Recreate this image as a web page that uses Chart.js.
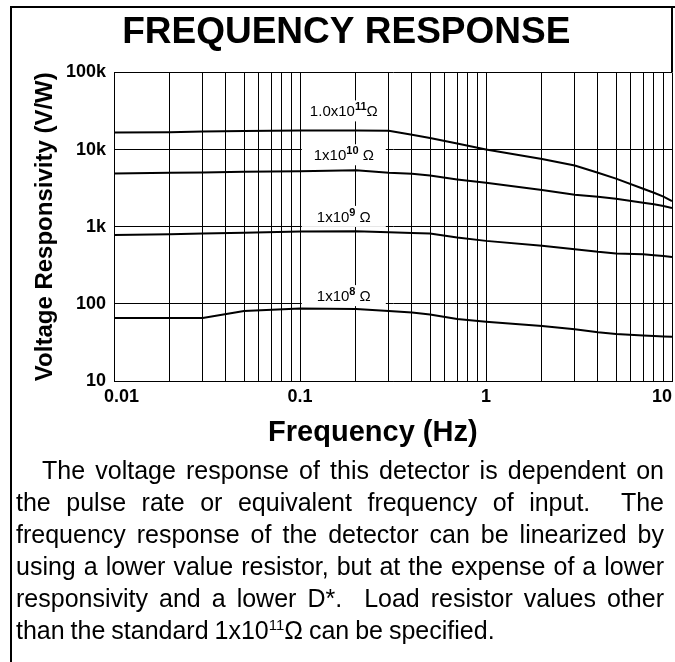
<!DOCTYPE html>
<html>
<head>
<meta charset="utf-8">
<title>Frequency Response</title>
<script src="https://cdn.jsdelivr.net/npm/chart.js@4.4.0/dist/chart.umd.min.js"></script>
<style>
    html, body { margin: 0; padding: 0; background: #fff; }
    body { width: 675px; height: 662px; position: relative; overflow: hidden; font-family: "Liberation Sans", Arial, sans-serif; }
    #frame { position: absolute; left: 10px; top: 6px; width: 700px; height: 700px; border-left: 2px solid #000; border-top: 2px solid #000; }
    #frameRight { position: absolute; left: 671px; top: 6px; width: 2px; height: 66px; background: #000; }
    #chartBox { position: absolute; left: 0; top: 0; width: 675px; height: 460px; }
    #note { position: absolute; left: 16px; top: 454px; width: 648px; font-size: 25px; line-height: 32px; text-align: justify; text-indent: 26px; word-spacing: -1px; color: #000; }
    #note sup { font-size: 15px; line-height: 0; vertical-align: 9px; }
</style>
</head>
<body>
<div id="frame"></div>
<div id="frameRight"></div>
<div id="chartBox"><canvas id="freq-response" width="675" height="460"></canvas></div>
<div id="note">The voltage response of this detector is dependent on the pulse rate or equivalent frequency of input.&nbsp; The frequency response of the detector can be linearized by using a lower value resistor, but at the expense of a lower responsivity and a lower D*.&nbsp; Load resistor values other than the standard 1x10<sup>11</sup>&Omega; can be specified.</div>

<script>
    "use strict";

    // Data
    var freqHz   = [0.01, 0.02, 0.03, 0.05, 0.1, 0.2, 0.3, 0.4, 0.5, 0.7, 1, 2, 3, 4, 5, 7, 8, 9, 10];
    var resp1e11 = [16600, 16800, 17100, 17400, 17600, 17600, 17500, 15600, 14100, 12000, 10000, 7550, 6200, 5000, 4200, 3100, 2750, 2450, 2150];
    var resp1e10 = [4900, 5000, 5050, 5150, 5250, 5400, 5000, 4850, 4600, 4100, 3700, 3000, 2600, 2450, 2300, 2050, 1950, 1850, 1750];
    var resp1e9  = [780, 800, 815, 835, 865, 870, 845, 830, 815, 725, 655, 565, 510, 472, 450, 440, 428, 416, 406];
    var resp1e8  = [65.4, 65.4, 65.4, 81, 87, 85.5, 81, 77, 73, 63.5, 58.6, 51.5, 46.7, 42.7, 40.6, 39, 38.3, 37.8, 37.4];

    // Axis ticks
    var yTicks = [10, 100, 1000, 10000, 100000];
    var yTickText = ['10', '100', '1k', '10k', '100k'];
    var xDecades = [0.01, 0.1, 1, 10];
    var xTickText = ['   0.01', '0.1', '1', '10    '];

    // Curve labels (resistor values), anchored in data units
    var curveNames = ['1.0x10', '1x10', '1x10', '1x10'];
    var curveExps = ['11', '10', '9', '8'];
    var curveUnits = ['\u03A9', ' \u03A9', ' \u03A9', ' \u03A9'];
    var labelFreq = 0.172;
    var labelValues = [26900, 7260, 1154, 108.5];

    var fontFamily = '"Liberation Sans", Arial, sans-serif';
    Chart.defaults.font.family = fontFamily;
    Chart.defaults.color = '#000';

    // gridlines at 1..9 of every decade
    var xGrid = [];
    xDecades.forEach(function (d, i) {
        if (i === xDecades.length - 1) { xGrid.push(d); return; }
        for (var k = 1; k < 10; k++) xGrid.push(d * k);
    });

    function toPoints(values) {
        return values.map(function (v, i) { return { x: freqHz[i], y: v }; });
    }

    function sameValue(a, b) {
        return Math.abs(a - b) < b * 1e-6;
    }

    // white boxes with the resistor values, drawn over the grid
    var curveLabelPlugin = {
        id: 'curveLabels',
        beforeDatasetsDraw: function (chart) {
            var ctx = chart.ctx, xs = chart.scales.x, ys = chart.scales.y;
            var baseFont = '15px ' + fontFamily;
            var supFont = 'bold 11px ' + fontFamily;
            ctx.save();
            ctx.textAlign = 'left';
            ctx.textBaseline = 'alphabetic';
            for (var i = 0; i < curveNames.length; i++) {
                var cx = xs.getPixelForValue(labelFreq);
                var by = ys.getPixelForValue(labelValues[i]);
                ctx.fillStyle = '#fff';
                ctx.fillRect(cx - 42, by - 16, 84, 21);

                ctx.font = baseFont;
                var w1 = ctx.measureText(curveNames[i]).width;
                var w3 = ctx.measureText(curveUnits[i]).width;
                ctx.font = supFont;
                var w2 = ctx.measureText(curveExps[i]).width;
                var x0 = cx - (w1 + w2 + w3) / 2;

                ctx.fillStyle = '#000';
                ctx.font = baseFont;
                ctx.fillText(curveNames[i], x0, by);
                ctx.font = supFont;
                ctx.fillText(curveExps[i], x0 + w1, by - 6);
                ctx.font = baseFont;
                ctx.fillText(curveUnits[i], x0 + w1 + w2, by);
            }
            ctx.restore();
        }
    };

    var lineStyle = { borderColor: '#000', borderWidth: 2, pointRadius: 0, fill: false, tension: 0 };

    var canvas = document.getElementById('freq-response');
    if (canvas) {
        new Chart(canvas.getContext('2d'), {
            type: 'line',
            data: {
                datasets: [
                    Object.assign({ label: '1e11', data: toPoints(resp1e11) }, lineStyle),
                    Object.assign({ label: '1e10', data: toPoints(resp1e10) }, lineStyle),
                    Object.assign({ label: '1e9', data: toPoints(resp1e9) }, lineStyle),
                    Object.assign({ label: '1e8', data: toPoints(resp1e8) }, lineStyle)
                ]
            },
            plugins: [curveLabelPlugin],
            options: {
                responsive: false,
                animation: false,
                layout: { padding: { left: 0, right: 3, top: 0, bottom: 0 } },
                plugins: {
                    legend: { display: false },
                    tooltip: { enabled: false },
                    title: {
                        display: true,
                        text: '  FREQUENCY RESPONSE',
                        color: '#000',
                        font: { size: 37, weight: 'bold', lineHeight: 1.2 },
                        padding: { top: 11, bottom: 17 }
                    }
                },
                scales: {
                    x: {
                        type: 'logarithmic',
                        min: xDecades[0],
                        max: xDecades[xDecades.length - 1],
                        afterBuildTicks: function (scale) {
                            scale.ticks = xGrid.map(function (v) { return { value: v }; });
                        },
                        afterFit: function (scale) {
                            scale.paddingLeft = 0;
                            scale.paddingRight = 0;
                            scale.height = 79;
                        },
                        grid: { color: '#000', lineWidth: 1, drawTicks: false },
                        border: { color: '#000', width: 1 },
                        ticks: {
                            autoSkip: false,
                            maxRotation: 0,
                            padding: 5,
                            color: '#000',
                            font: { size: 18, weight: 'bold' },
                            callback: function (value) {
                                for (var i = 0; i < xDecades.length; i++) {
                                    if (sameValue(value, xDecades[i])) return xTickText[i];
                                }
                                return '';
                            }
                        },
                        title: {
                            display: true,
                            text: 'Frequency (Hz)     ',
                            color: '#000',
                            font: { size: 29, weight: 'bold', lineHeight: 1.2 },
                            padding: { top: 0, bottom: 10 }
                        }
                    },
                    y: {
                        type: 'logarithmic',
                        min: yTicks[0],
                        max: yTicks[yTicks.length - 1],
                        afterBuildTicks: function (scale) {
                            scale.ticks = yTicks.map(function (v) { return { value: v }; });
                        },
                        afterFit: function (scale) {
                            scale.width = 114;
                        },
                        grid: { color: '#000', lineWidth: 1, drawTicks: false },
                        border: { color: '#000', width: 1 },
                        ticks: {
                            autoSkip: false,
                            padding: 8,
                            color: '#000',
                            font: { size: 18, weight: 'bold' },
                            callback: function (value) {
                                for (var i = 0; i < yTicks.length; i++) {
                                    if (sameValue(value, yTicks[i])) return yTickText[i];
                                }
                                return '';
                            }
                        },
                        title: {
                            display: true,
                            text: 'Voltage Responsivity (V/W)',
                            color: '#000',
                            font: { size: 24, weight: 'bold', lineHeight: 1.2 },
                            padding: { top: 31, bottom: 0 }
                        }
                    }
                }
            }
        });
    } else {
        console.warn("Canvas element with id 'freq-response' not found, skipping chart initialization.");
    }
</script>
</body>
</html>
